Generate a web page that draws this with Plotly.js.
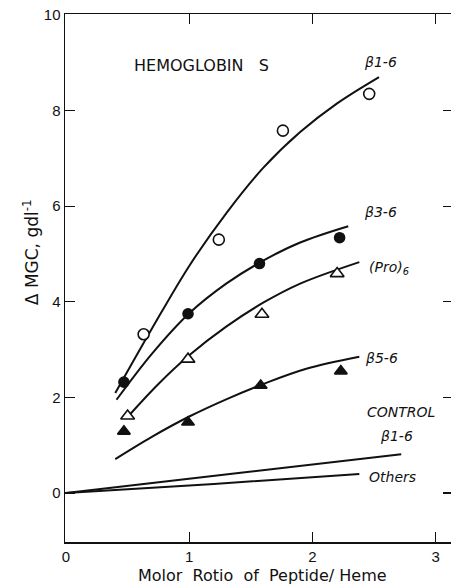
<!DOCTYPE html>
<html>
<head>
<meta charset="utf-8">
<script src="https://cdn.plot.ly/plotly-3.0.1.min.js"></script>
<style>
html, body { margin: 0; padding: 0; overflow: hidden; background: #fff; }
#chart { width: 456px; height: 584px; }
</style>
</head>
<body>
<div id="chart"></div>
<script>
// ---- data ----
// measured points
const b16X = [0.63, 1.24, 1.76, 2.46];
const b16Y = [3.32, 5.30, 7.58, 8.35];
const b36X = [0.47, 0.99, 1.57, 2.22];
const b36Y = [2.32, 3.75, 4.80, 5.34];
const proX = [0.50, 0.99, 1.59, 2.20];
const proY = [1.61, 2.80, 3.74, 4.59];
const b56X = [0.47, 0.99, 1.58, 2.23];
const b56Y = [1.29, 1.48, 2.25, 2.55];

// hand-drawn fitted curves
const b16CurveX = [0.40, 0.70, 1.00, 1.30, 1.60, 1.90, 2.20, 2.54];
const b16CurveY = [2.09, 3.45, 4.75, 5.85, 6.80, 7.55, 8.15, 8.70];
const b36CurveX = [0.41, 0.70, 1.00, 1.30, 1.60, 1.90, 2.29];
const b36CurveY = [1.95, 2.92, 3.76, 4.38, 4.86, 5.24, 5.58];
const proCurveX = [0.50, 0.75, 1.00, 1.30, 1.60, 1.90, 2.38];
const proCurveY = [1.59, 2.28, 2.88, 3.48, 3.98, 4.38, 4.83];
const b56CurveX = [0.40, 0.70, 1.00, 1.30, 1.60, 1.95, 2.38];
const b56CurveY = [0.71, 1.18, 1.60, 1.96, 2.28, 2.60, 2.85];
const ctlB16X = [0, 1.40, 2.72];
const ctlB16Y = [0, 0.42, 0.81];
const othersX = [0, 1.20, 2.38];
const othersY = [0, 0.19, 0.40];

// axis ticks
const xTicks = [0, 1, 2, 3];
const xTickText = ['0', '1', '2', '3'];
const yTicks = [0, 2, 4, 6, 8, 10];
const yTickText = ['0', '2', '4', '6', '8', '10'];

// labels
const curveLabels = [
  {x: 2.40, y: 9.02, text: '<i>β1-6</i>'},
  {x: 2.40, y: 5.88, text: '<i>β3-6</i>'},
  {x: 2.44, y: 4.71, text: '<i>(Pro)<sub>6</sub></i>'},
  {x: 2.41, y: 2.82, text: '<i>β5-6</i>'},
  {x: 2.43, y: 1.69, text: '<i>CONTROL</i>'},
  {x: 2.53, y: 1.19, text: '<i>β1-6</i>'},
  {x: 2.44, y: 0.33, text: '<i>Others</i>'}
];

const ink = '#111';
const lineStyle = {color: ink, width: 2, shape: 'spline', smoothing: 1};

function curve(x, y) {
  return {x: x, y: y, mode: 'lines', line: lineStyle, hoverinfo: 'skip', showlegend: false};
}
function pts(x, y, symbol, size) {
  return {x: x, y: y, mode: 'markers', showlegend: false,
    marker: {symbol: symbol, size: size, color: ink, line: {color: ink, width: 1.6}}};
}

const traces = [
  curve(b16CurveX, b16CurveY),
  curve(b36CurveX, b36CurveY),
  curve(proCurveX, proCurveY),
  curve(b56CurveX, b56CurveY),
  curve(ctlB16X, ctlB16Y),
  curve(othersX, othersY),
  {x: b16X, y: b16Y, mode: 'markers', showlegend: false,
   marker: {symbol: 'circle', size: 11, color: '#fff', line: {color: ink, width: 1.6}}},
  pts(b36X, b36Y, 'circle', 10),
  {x: proX, y: proY, mode: 'markers', showlegend: false,
   marker: {symbol: 'triangle-up', size: 12, color: '#fff', line: {color: ink, width: 1.6}}},
  pts(b56X, b56Y, 'triangle-up', 11)
];

const annotations = curveLabels.map(l => ({
  x: l.x, y: l.y, xref: 'x', yref: 'y', text: l.text, showarrow: false,
  xanchor: 'left', yanchor: 'middle',
  font: {family: 'DejaVu Sans', size: 14, color: ink}
}));
annotations.push({
  x: 1.10, y: 8.95, xref: 'x', yref: 'y', text: 'HEMOGLOBIN\u00a0\u00a0\u00a0S',
  showarrow: false, xanchor: 'center', yanchor: 'middle',
  font: {family: 'DejaVu Sans', size: 16, color: ink}
});
annotations.push({
  x: -0.0876, y: 0.549, xref: 'paper', yref: 'paper', text: 'Δ MGC, gdl<sup>-1</sup>',
  textangle: -90, showarrow: false, xanchor: 'center', yanchor: 'middle',
  font: {family: 'DejaVu Sans', size: 17, color: ink}
});
annotations.push({
  x: 0.508, y: -0.0625, xref: 'paper', yref: 'paper',
  text: 'Molor\u00a0\u00a0Rotio\u00a0\u00a0of\u00a0\u00a0Peptide/\u00a0Heme',
  showarrow: false, xanchor: 'center', yanchor: 'middle',
  font: {family: 'DejaVu Sans', size: 16, color: ink}
});

const layout = {
  width: 456, height: 584,
  margin: {l: 65, r: 3, t: 14, b: 42},
  paper_bgcolor: '#fff', plot_bgcolor: '#fff',
  showlegend: false,
  font: {family: 'Liberation Sans', size: 15, color: ink},
  xaxis: {
    range: [-0.008, 3.14], tickvals: xTicks, ticktext: xTickText,
    ticks: 'inside', ticklen: 10, tickwidth: 1.3, tickcolor: ink,
    showline: true, linecolor: ink, linewidth: 1.5, mirror: 'ticks',
    showgrid: false, zeroline: false,
    tickfont: {family: 'Liberation Sans', size: 15, color: ink}
  },
  yaxis: {
    range: [-1.025, 10.02], tickvals: yTicks, ticktext: yTickText,
    ticks: 'inside', ticklen: 10, tickwidth: 1.3, tickcolor: ink,
    showline: true, linecolor: ink, linewidth: 1.5, mirror: 'ticks',
    showgrid: false, zeroline: false,
    tickfont: {family: 'Liberation Sans', size: 15, color: ink}
  },
  annotations: annotations
};

Plotly.newPlot('chart', traces, layout, {displayModeBar: false, staticPlot: true});
</script>
</body>
</html>
